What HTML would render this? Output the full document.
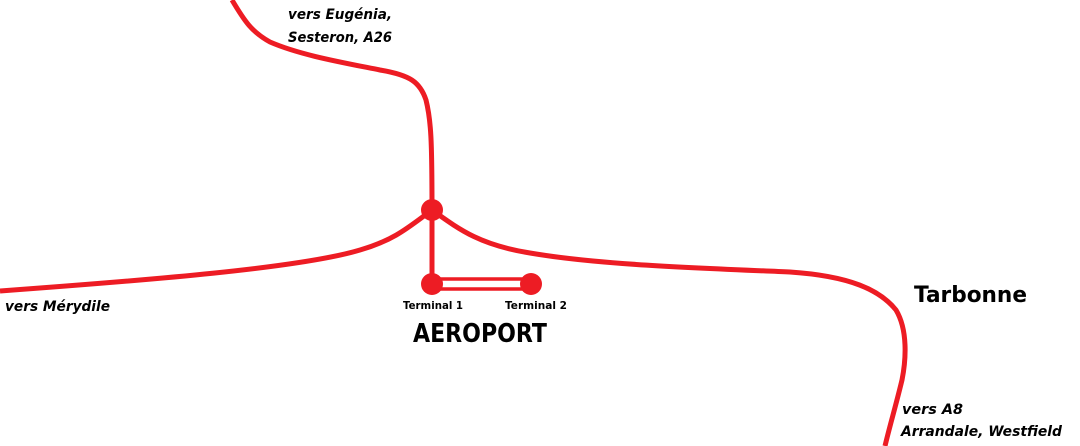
<!DOCTYPE html>
<html><head><meta charset="utf-8"><style>
html,body{margin:0;padding:0;background:#fff;}
svg{display:block}
text{font-family:"DejaVu Sans","Liberation Sans",sans-serif;font-weight:bold;fill:#000}
</style></head><body>
<svg width="1080" height="446" viewBox="0 0 1080 446" xmlns="http://www.w3.org/2000/svg">
<g fill="none" stroke="#ed1c24" stroke-width="5" stroke-linecap="butt">
<path d="M232,0 C245,22 252,32 270,42 C300,55 340,62 380,70 C410,75 420,82 426,100 C431,120 432,140 432,210"/>
<path d="M432,210 C410,226 395,240 360,250 C300,268 150,280 0,291"/>
<path d="M432,210 C460,230 480,245 530,253 C600,265 700,268 790,272 C850,276 880,290 896,310 C908,330 906,360 902,380 C896,405 890,425 885,446"/>
<path d="M432,210 L432,284"/>
<path d="M432,279 L531,279 M432,289 L531,289" stroke-width="3.5"/>
</g>
<g fill="#ed1c24">
<circle cx="432" cy="210" r="11"/>
<circle cx="432" cy="284" r="11"/>
<circle cx="531" cy="284" r="11"/>
</g>
<text x="403" y="309" font-size="11" textLength="60" lengthAdjust="spacingAndGlyphs">Terminal  1</text>
<text x="505" y="309" font-size="11" textLength="62" lengthAdjust="spacingAndGlyphs">Terminal  2</text>
<text x="413" y="342" font-size="26" textLength="134" lengthAdjust="spacingAndGlyphs">AEROPORT</text>
<text x="914" y="302" font-size="22" textLength="113" lengthAdjust="spacingAndGlyphs">Tarbonne</text>
<g font-style="italic" font-size="14">
<text x="288" y="19" textLength="104" lengthAdjust="spacingAndGlyphs">vers  Eugénia,</text>
<text x="288" y="42" textLength="104" lengthAdjust="spacingAndGlyphs">Sesteron, A26</text>
<text x="5" y="311" textLength="105" lengthAdjust="spacingAndGlyphs">vers  Mérydile</text>
<text x="902" y="414" textLength="61" lengthAdjust="spacingAndGlyphs">vers  A8</text>
<text x="901" y="436" textLength="161" lengthAdjust="spacingAndGlyphs">Arrandale,  Westfield</text>
</g>
</svg>
</body></html>
